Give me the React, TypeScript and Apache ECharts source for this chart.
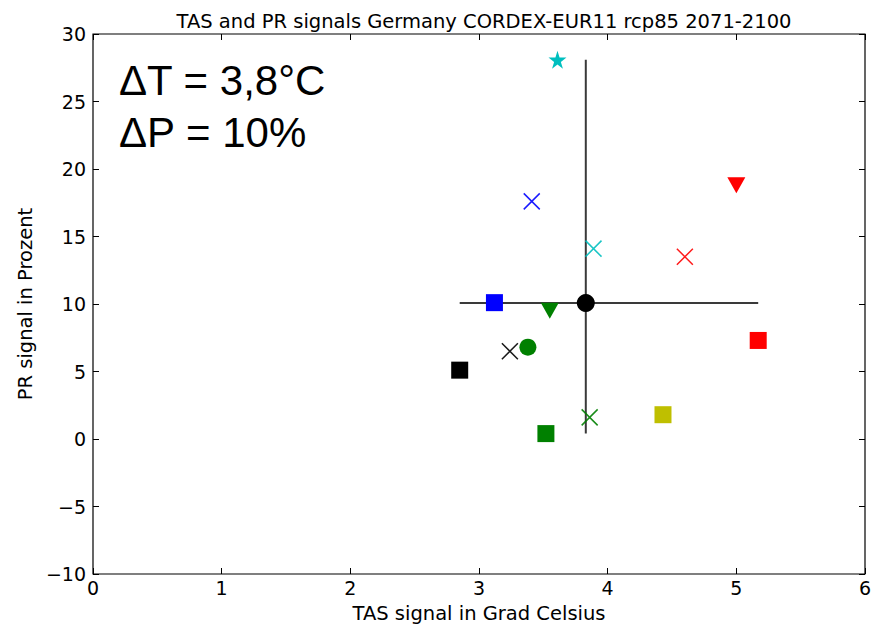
import React, { useEffect, useRef } from "react";
import * as echarts from "echarts";

// Model signals
const tasSignal = [3.61, 3.41, 3.89, 4.6, 5.0, 3.12, 3.55, 3.38, 3.24, 2.85, 5.17, 3.52, 3.86, 4.43];
const prSignal = [28.1, 17.6, 14.1, 13.5, 18.8, 10.1, 9.5, 6.8, 6.5, 5.1, 7.3, 0.4, 1.6, 1.8];
const markerColors = [
  "#00bfbf", "#0000ff", "#00bfbf", "#ff0000", "#ff0000", "#0000ff", "#008000",
  "#008000", "#000000", "#000000", "#ff0000", "#008000", "#008000", "#bfbf00",
];
const markerShapes = [
  "star", "x", "x", "x", "tri", "sq", "tri", "circ", "x", "sq", "sq", "sq", "x", "sq",
];
const ensembleMean = [3.83, 10.08];
const xTicks = [0, 1, 2, 3, 4, 5, 6];
const yTicks = [-10, -5, 0, 5, 10, 15, 20, 25, 30];
const annotationLines = ["ΔT = 3,8°C", "ΔP = 10%"];

const STAR = "path://M50,0 L61,35 L98,35 L68,57 L79,91 L50,70 L21,91 L32,57 L2,35 L39,35 Z";
const CROSS = "path://M0,0L10,10M10,0L0,10";

export default function App() {
  const ref = useRef<HTMLDivElement>(null);
  useEffect(() => {
    if (!ref.current) return;
    const chart = echarts.init(ref.current, null, { renderer: "svg" });
    const font = "DejaVu Sans";
    const pts = tasSignal.map((x, i) => {
      const shape = markerShapes[i];
      const c = markerColors[i];
      const base: any = { value: [x, prSignal[i]] };
      if (shape === "x") {
        base.symbol = CROSS;
        base.symbolSize = 16;
        base.itemStyle = { color: "none", borderColor: c, borderWidth: 1.5, opacity: 0.9 };
      } else if (shape === "star") {
        base.symbol = STAR;
        base.symbolSize = 18;
        base.itemStyle = { color: c, opacity: 1 };
      } else if (shape === "tri") {
        base.symbol = "triangle";
        base.symbolRotate = 180;
        base.symbolSize = [18, 16];
        base.itemStyle = { color: c, opacity: 1 };
      } else if (shape === "sq") {
        base.symbol = "rect";
        base.symbolSize = 17;
        base.itemStyle = { color: c, opacity: 1 };
      } else {
        base.symbol = "circle";
        base.symbolSize = 17;
        base.itemStyle = { color: c, opacity: 1 };
      }
      return base;
    });
    const xMin = Math.min(...tasSignal);
    const xMax = Math.max(...tasSignal);
    const yMin = Math.min(...prSignal);
    const yMax = Math.max(...prSignal);
    const tickFmt = (v: number) => (v < 0 ? "\u2212" + Math.abs(v) : String(v));
    const xCommon = {
      type: "value" as const,
      min: xTicks[0],
      max: xTicks[xTicks.length - 1],
      interval: 1,
      splitLine: { show: false },
      axisLine: { show: false, onZero: false },
      axisTick: { show: true, inside: true, length: 6, lineStyle: { color: "#000" } },
    };
    const yCommon = {
      type: "value" as const,
      min: yTicks[0],
      max: yTicks[yTicks.length - 1],
      interval: 5,
      splitLine: { show: false },
      axisLine: { show: false, onZero: false },
      axisTick: { show: true, inside: true, length: 6, lineStyle: { color: "#000" } },
    };
    chart.setOption({
      animation: false,
      title: {
        text: "TAS and PR signals Germany CORDEX-EUR11 rcp85 2071-2100",
        left: 479,
        textAlign: "center",
        top: 6,
        textStyle: { fontFamily: font, fontSize: 19.5, fontWeight: "normal", color: "#000" },
      },
      grid: {
        left: 93,
        width: 772,
        top: 34,
        height: 544,
        show: true,
        borderColor: "#000",
        borderWidth: 1.2,
        backgroundColor: "#fff",
      },
      xAxis: [
        {
          ...xCommon,
          position: "bottom",
          name: "TAS signal in Grad Celsius",
          nameLocation: "middle",
          nameGap: 29,
          nameTextStyle: { fontFamily: font, fontSize: 19.5, color: "#000" },
          axisLabel: { fontFamily: font, fontSize: 19, color: "#000", margin: 4, formatter: tickFmt },
        },
        { ...xCommon, position: "top", axisLabel: { show: false } },
      ],
      yAxis: [
        {
          ...yCommon,
          position: "left",
          name: "PR signal in Prozent",
          nameLocation: "middle",
          nameGap: 56,
          nameTextStyle: { fontFamily: font, fontSize: 19.5, color: "#000" },
          axisLabel: { fontFamily: font, fontSize: 19, color: "#000", margin: 7, formatter: tickFmt },
        },
        { ...yCommon, position: "right", axisLabel: { show: false } },
      ],
      graphic: annotationLines.map((t, i) => ({
        type: "text",
        left: 119,
        top: 59 + i * 52,
        style: { text: t, fontFamily: "Liberation Sans", fontSize: 42, fill: "#000" },
        z: 10,
      })),
      series: [
        {
          type: "line",
          data: [[xMin, ensembleMean[1]], [xMax, ensembleMean[1]]],
          showSymbol: false,
          lineStyle: { color: "#3a3a3a", width: 2 },
          z: 1,
        },
        {
          type: "line",
          data: [[ensembleMean[0], yMin], [ensembleMean[0], yMax]],
          showSymbol: false,
          lineStyle: { color: "#3a3a3a", width: 2 },
          z: 1,
        },
        {
          type: "scatter",
          data: pts,
          z: 3,
        },
        {
          type: "scatter",
          data: [{ value: ensembleMean }],
          symbol: "circle",
          symbolSize: 18,
          itemStyle: { color: "#000", opacity: 1 },
          z: 4,
        },
      ],
    });
    return () => chart.dispose();
  }, []);
  return (
    <div
      ref={ref}
      style={{ position: "absolute", left: 0, top: 0, width: 880, height: 628, background: "#fff" }}
    />
  );
}
